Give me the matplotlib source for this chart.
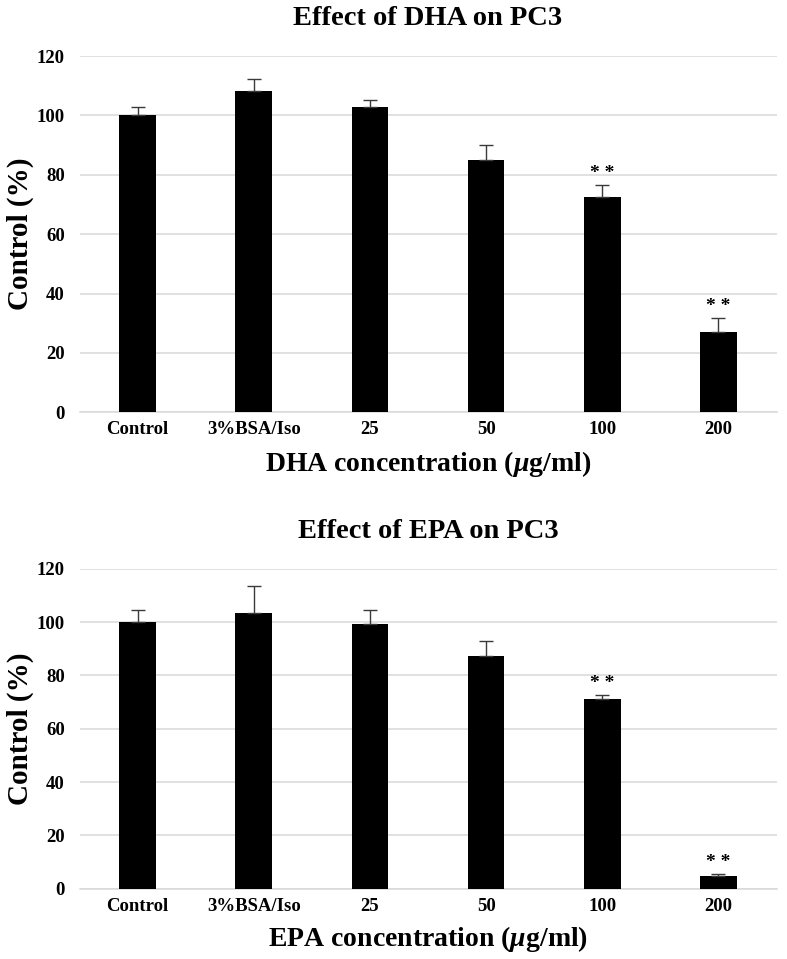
import matplotlib
matplotlib.use("Agg")
import matplotlib.pyplot as plt
import numpy as np

plt.rcParams['font.family'] = ['Liberation Serif', 'DejaVu Serif']
plt.rcParams['font.weight'] = 'bold'
plt.rcParams['mathtext.fontset'] = 'custom'
plt.rcParams['mathtext.it'] = 'Liberation Serif:italic:bold'
plt.rcParams['mathtext.rm'] = 'Liberation Serif:bold'

categories = ["Control", "3%BSA/Iso", "25", "50", "100", "200"]
dha_means = [100.0, 108.3, 102.7, 84.9, 72.5, 27.2]
dha_err = [2.8, 3.8, 2.5, 5.0, 4.0, 4.6]
epa_means = [100.2, 103.5, 99.2, 87.5, 71.3, 4.8]
epa_err = [4.3, 10.1, 5.5, 5.5, 1.2, 0.6]
significant = [False, False, False, False, True, True]
yticks = [0, 20, 40, 60, 80, 100, 120]

fig = plt.figure(figsize=(7.87, 9.59), dpi=100)

def draw(ax, means, errs, title, xlabel, xlabel_y):
    x = np.arange(len(categories))
    ax.bar(x, means, width=0.316, color='black', zorder=3)
    ax.errorbar(x, means, yerr=[np.zeros(len(errs)), errs], fmt='none',
                ecolor='#3a3a3a', elinewidth=1.0, capsize=5, capthick=1.0, zorder=4)
    for xi, m, e, s in zip(x, means, errs, significant):
        if s:
            ax.annotate("* *", xy=(xi, m + e), xytext=(0, 8.5), textcoords='offset points',
                        ha='center', va='center', fontsize=14, fontweight='bold')
    ax.set_xlim(-0.5, len(categories) - 0.5)
    ax.set_ylim(0, 120)
    ax.set_yticks(yticks)
    ax.set_xticks(x)
    ax.set_xticklabels(categories, fontsize=13.5, fontweight='bold')
    ax.set_yticklabels([str(t) for t in yticks], fontsize=13.5, fontweight='bold')
    ax.tick_params(axis='y', length=0, pad=10.5)
    ax.tick_params(axis='x', length=0, pad=6.5)
    ax.yaxis.grid(True, color='#d9d9d9', linewidth=1.1, zorder=0)
    ax.set_axisbelow(True)
    for side in ['top', 'right', 'left']:
        ax.spines[side].set_visible(False)
    ax.spines['bottom'].set_color('#d9d9d9')
    ax.spines['bottom'].set_linewidth(1.1)
    ax.set_title(title, fontsize=20.5, fontweight='bold', pad=22)
    ax.set_ylabel("Control (%)", fontsize=21, fontweight='bold')
    ax.yaxis.set_label_coords(-0.066, 0.5)
    ax.set_xlabel(xlabel, fontsize=20, fontweight='bold', va='top')
    ax.xaxis.set_label_coords(0.5, xlabel_y)

ax1 = fig.add_axes([0.1011, 0.5701, 0.8856, 0.3715])
draw(ax1, dha_means, dha_err, "Effect of DHA on PC3",
     r"DHA concentration ($\mu$g/ml)", -0.103)

ax2 = fig.add_axes([0.1011, 0.0735, 0.8856, 0.3332])
draw(ax2, epa_means, epa_err, "Effect of EPA on PC3",
     r"EPA concentration ($\mu$g/ml)", -0.112)

fig.savefig("out.png", dpi=100)
